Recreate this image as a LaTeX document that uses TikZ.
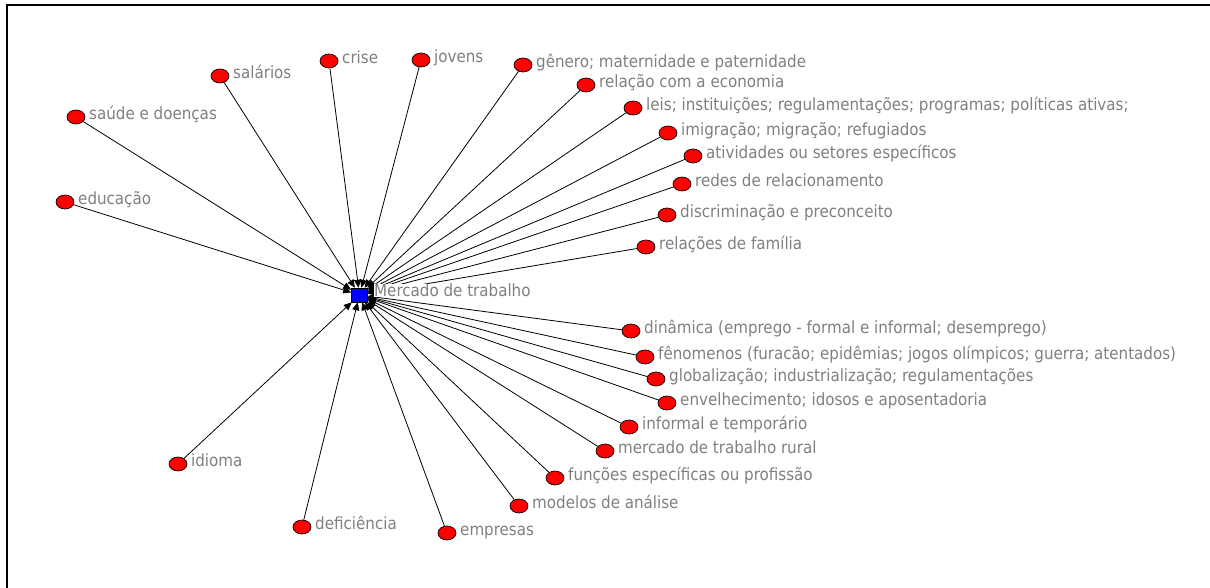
\documentclass[tikz,border=0pt]{standalone}
\usepackage{fontspec}
\setmainfont{DejaVu Sans Condensed}
\usetikzlibrary{arrows.meta,shapes.geometric}
\definecolor{lblgray}{RGB}{128,128,128}
\definecolor{nodered}{RGB}{255,0,0}
\definecolor{nodeblue}{RGB}{0,0,255}
\begin{document}
\begin{tikzpicture}[x=1pt,y=-1pt,
  dot/.style={ellipse,draw=black,line width=0.7pt,fill=nodered,minimum width=18pt,minimum height=14pt,inner sep=0pt},
  hub/.style={rectangle,draw=black,line width=0.5pt,fill=nodeblue,minimum width=16pt,minimum height=14pt,inner sep=0pt},
  lbl/.style={anchor=base west,inner sep=0pt,text=lblgray,font=\fontsize{16.8pt}{18pt}\selectfont},
  edge/.style={draw=black,line width=0.8pt,-{Triangle[length=8pt,width=7pt]}}]
\useasboundingbox (0,0) rectangle (1210,588);
\fill[white] (0,0) rectangle (1210,588);
\draw[line width=2.5pt] (7,588) -- (7,5) -- (1210,5);

\node[hub] (c) at (359.5,295) {};

\foreach \n/\x/\y/\t in {
  n1/329/61/{crise},
  n2/421/60/{jovens},
  n3/220/76/{salários},
  n4/76/117/{saúde e doenças},
  n5/65/202/{educação},
  n6/523/65/{gênero; maternidade e paternidade},
  n7/586/85/{relação com a economia},
  n8/633/108/{leis; instituições; regulamentações; programas; políticas ativas;},
  n9/668/133/{imigração; migração; refugiados},
  n10/693/156/{atividades ou setores específicos},
  n11/682/184/{redes de relacionamento},
  n12/667/215/{discriminação e preconceito},
  n13/646/247/{relações de família},
  n14/631/331/{dinâmica (emprego - formal e informal; desemprego)},
  n15/645/357/{fênomenos (furacão; epidêmias; jogos olímpicos; guerra; atentados)},
  n16/656/379/{globalização; industrialização; regulamentações},
  n17/667/403/{envelhecimento; idosos e aposentadoria},
  n18/629/427/{informal e temporário},
  n19/605/451/{mercado de trabalho rural},
  n20/555/478/{funções específicas ou profissão},
  n21/519/506/{modelos de análise},
  n22/447/533/{empresas},
  n23/302/527/{deficiência},
  n24/178/464/{idioma}}{
  \node[dot] (\n) at (\x,\y) {};
  \node[lbl] (\n-l) at (\x+13,\y+2.6) {\t};
  \draw[edge] (\n) -- (c);
}
\node[lbl,fill=white] (cl) at (374,296.7) {Mercado de trabalho};
\end{tikzpicture}
\end{document}
